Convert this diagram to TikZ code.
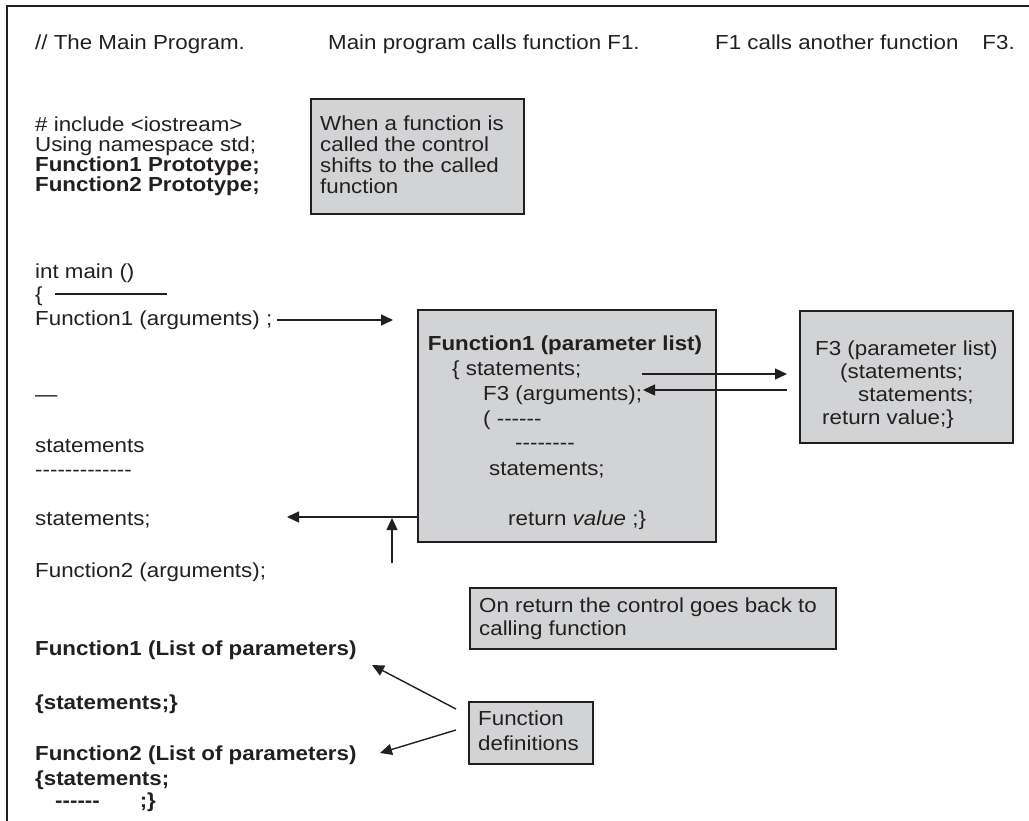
\documentclass[tikz,border=0pt]{standalone}
\usepackage{fontspec}
\newfontfamily\pfont{Liberation Sans}[FakeStretch=1.1]
\usetikzlibrary{arrows.meta,calc}
\definecolor{ink}{HTML}{231F20}
\definecolor{boxgray}{HTML}{D1D3D4}

\begin{document}
\begin{tikzpicture}[x=1pt,y=-1pt,
  txt/.style={anchor=base west,inner sep=0pt,text=ink,
    font=\pfont\fontsize{20.3}{21}\selectfont},
  btxt/.style={txt,font=\pfont\bfseries\fontsize{20.3}{21}\selectfont},
  panel/.style={draw=ink,line width=1.6pt,fill=boxgray,inner sep=0pt,
    anchor=north west},
  arr/.style={draw=ink,line width=1.4pt,-{Triangle[length=12pt,width=11pt]}},
  rule/.style={draw=ink,line width=1.3pt}]

\useasboundingbox (0,0) rectangle (1029,820);

% page frame (open at the right and bottom)
\draw[ink,line width=2pt] (7,821) -- (7,6) -- (1030,6);

% headings
\node[txt] (h1) at (35,49) {// The Main Program.};
\node[txt] (h2) at (328,49) {Main program calls function F1.};
\node[txt] (h3) at (715,49) {F1 calls another function\hspace{24pt}F3.};

% preamble of the program
\node[txt]  (inc) at (35,131) {\# include <iostream>};
\node[txt]  (ns)  at (35,151) {Using namespace std;};
\node[btxt] (pr1) at (35,171) {Function1 Prototype;};
\node[btxt] (pr2) at (35,191) {Function2 Prototype;};

% note: call shifts control
\node[panel,minimum width=213pt,minimum height=115pt] (note1) at (310,98) {};
\node[txt] at (320,130) {When a function is};
\node[txt] at (320,151) {called the control};
\node[txt] at (320,172) {shifts to the called};
\node[txt] at (320,193) {function};

% main()
\node[txt] (mainhd) at (35,278) {int main ()};
\node[txt] (brace)  at (35,301) {\{};
\coordinate (braceA) at (55,294);
\coordinate (braceB) at (167,294);
\draw[rule] (braceA) -- (braceB);
\node[txt] (call1) at (35,325) {Function1 (arguments) ;};
\node[txt] (dash)  at (35,401) {—};
\node[txt] (st1)   at (35,452) {statements};
\node[txt] (hy1)   at (35,476) {-------------};
\node[txt] (st2)   at (35,525) {statements;};
\node[txt] (call2) at (35,577) {Function2 (arguments);};

% function definitions
\node[btxt] (d1)  at (35,655) {Function1 (List of parameters)};
\node[btxt] (d1b) at (35,709) {\{statements;\}};
\node[btxt] (d2)  at (35,760) {Function2 (List of parameters)};
\node[btxt] (d2b) at (35,785) {\{statements;};
\node[btxt] (d2c) at (55,807) {------\hspace{40pt};\}};

% body of Function1
\node[panel,minimum width=298pt,minimum height=232pt] (f1box) at (417,309) {};
\node[btxt,anchor=base] (f1t) at (565,350) {Function1 (parameter list)};
\node[txt] (f1a) at (452,375) {\{ statements;};
\node[txt] (f1call) at (483,400) {F3 (arguments);};
\node[txt] (f1c) at (483,425) {( ------};
\node[txt] (f1d) at (515,449) {--------};
\node[txt] (f1e) at (489,475) {statements;};
\node[txt] (f1r) at (508,525) {return \textit{value} ;\}};

% body of F3
\node[panel,minimum width=213pt,minimum height=132pt] (f3box) at (799,310) {};
\node[txt] (f3t) at (815,355) {F3 (parameter list)};
\node[txt] (f3a) at (840,378) {(statements;};
\node[txt] (f3b) at (858,401) {statements;};
\node[txt] (f3r) at (822,424) {return value;\}};

% note: return
\node[panel,minimum width=366pt,minimum height=61pt] (retnote) at (469,587) {};
\node[txt] at (479,612) {On return the control goes back to};
\node[txt] at (479,635) {calling function};

% note: definitions
\node[panel,minimum width=124pt,minimum height=62pt] (defnote) at (468,701) {};
\node[txt] at (478,725) {Function};
\node[txt] at (478,750) {definitions};

% call of Function1
\coordinate (callS) at (277,320);
\coordinate (callT) at (393,320);
\draw[arr] (callS) -- (callT);

% call of F3 and its return
\coordinate (goS) at (642,374);
\coordinate (goT) at (787,374);
\draw[arr] (goS) -- (goT);
\coordinate (backS) at (787,390);
\coordinate (backT) at (643,390);
\draw[arr] (backS) -- (backT);

% return to the caller
\coordinate (retT) at (287,517);
\draw[arr] (f1box.west |- retT) -- (retT);
\coordinate (upS) at (392,563);
\coordinate (upT) at (392,518);
\draw[arr] (upS) -- (upT);

% pointers to the definitions
\coordinate (defA) at (456,709);
\coordinate (defB) at (456,730);
\coordinate (tipA) at (372,665);
\coordinate (tipB) at (380,753);
\draw[arr] (defA) -- (tipA);
\draw[arr] (defB) -- (tipB);

\end{tikzpicture}
\end{document}
